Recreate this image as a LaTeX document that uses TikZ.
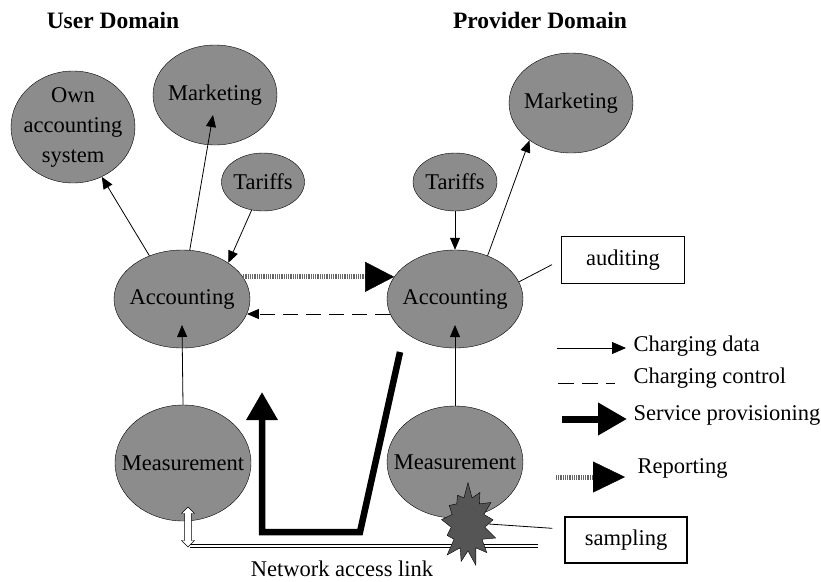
\documentclass[tikz,border=0pt]{standalone}
\usepackage{fontspec}
\setmainfont{Liberation Serif}
\usetikzlibrary{shapes,arrows.meta,calc}
\definecolor{ellgray}{RGB}{140,140,140}
\definecolor{burstgray}{RGB}{85,85,85}
\tikzstyle{nd}=[ellipse,draw=black,fill=ellgray,inner sep=0pt]
\tikzstyle{bx}=[rectangle,draw=black,line width=1.2pt,inner sep=0pt]
\tikzstyle{dat}=[->,line width=.8pt]
\tikzstyle{ctl}=[->,line width=1pt,dash pattern=on 15pt off 8pt]
\tikzstyle{rep}=[draw=gray!80!black,line width=5pt,dash pattern=on 1pt off .8pt]
\tikzstyle{prov}=[line width=6.5pt,-{Triangle[length=28pt,width=30pt]}]
\tikzstyle{big}=[-{Triangle[length=29pt,width=30pt]}]

\begin{document}
\begin{tikzpicture}[x=1pt,y=-1pt,>={Triangle[length=12pt,width=10pt]},font=\fontsize{22.5}{30}\selectfont]
\useasboundingbox (0,0) rectangle (821,581);
\node[font=\fontsize{23.5}{26}\selectfont\bfseries] (ut) at (113,20) {User Domain};
\node[font=\fontsize{23.5}{26}\selectfont\bfseries] (pt) at (540,20) {Provider Domain};

\node[nd,minimum width=124,minimum height=112,label={[align=center]center:Own\\accounting\\system}] (own) at (73,127) {};
\node[nd,minimum width=124,minimum height=100,label=center:Marketing] (umkt) at (215,95) {};
\node[nd,minimum width=83,minimum height=58,label=center:Tariffs] (utar) at (263,182) {};
\node[nd,minimum width=136,minimum height=98,label=center:Accounting] (uacc) at (182,299) {};
\node[nd,minimum width=136,minimum height=116,label=center:Measurement] (umeas) at (183,463) {};

\node[nd,minimum width=84,minimum height=58,label=center:Tariffs] (ptar) at (455,182) {};
\node[nd,minimum width=124,minimum height=100,label=center:Marketing] (pmkt) at (571,103) {};
\node[nd,minimum width=136,minimum height=98,label=center:Accounting] (pacc) at (455,299) {};
\node[nd,minimum width=136,minimum height=112,label=center:Measurement] (pmeas) at (455,462) {};

\node[bx,minimum width=123,minimum height=47] (aud) at (623,260) {auditing};
\node[bx,minimum width=122,minimum height=46] (samp) at (626,540) {sampling};

\draw[dat] (uacc.127) -- (own.-60);
\draw[dat] (uacc.81) -- ($(umkt)+(-2,20)$);
\draw[dat] (utar.-112) -- (uacc.38);
\draw[dat] (umeas.north) -- ($(uacc)+(0,26)$);
\draw[dat] (ptar.south) -- (pacc.north);
\draw[dat] (pacc.53) -- (pmkt.-138);
\draw[dat] (pmeas.north) -- ($(pacc)+(0,26)$);

\draw[rep] (uacc.20) -- ($(pacc.160)+(-27,0)$);
\draw[big] ($(pacc.160)+(-28,0)$) -- (pacc.160);
\draw[ctl] (pacc.-167) -- (uacc.-13);
\draw[line width=.8pt,shorten <=10pt] (aud.west) -- (pacc.15);

\coordinate (sp1) at (400,352);
\coordinate (sp2) at (360,532);
\coordinate (sp3) at (262,532);
\coordinate (sp4) at (262,392);
\draw[prov] (sp1) -- (sp2) -- (sp3) -- (sp4);

\coordinate (nl) at (190,546);
\coordinate (nr) at (538,546);
\draw[double,double distance=2.5pt,line width=.8pt] (nl) -- (nr);
\node (net) at (342,569) {Network access link};
\node[double arrow,draw=black,fill=white,rotate=90,minimum height=40pt,minimum width=13pt,
  inner sep=3pt,double arrow head extend=3pt,double arrow head indent=0pt] (dbl) at (188,527) {};

\node[starburst,fill=burstgray,draw=black,starburst points=13,starburst point height=16pt,
  random starburst=7,inner xsep=12pt,inner ysep=19pt] (burst) at (468,524) {};
\draw[line width=.8pt,shorten >=12pt] (burst.east) -- (samp.170);

\coordinate (l1a) at (557,348); \coordinate (l1b) at (626,348);
\coordinate (l2a) at (558,383); \coordinate (l2b) at (615,383);
\coordinate (l3a) at (562,419); \coordinate (l3b) at (627,419);
\coordinate (l4a) at (556,477); \coordinate (l4b) at (593,477); \coordinate (l4c) at (625,477);
\draw[dat,>={Triangle[length=14pt,width=12pt]}] (l1a) -- (l1b);
\draw[line width=1pt,dash pattern=on 16pt off 8pt] (l2a) -- (l2b);
\draw[line width=7pt,-{Triangle[length=29pt,width=31pt]}] (l3a) -- (l3b);
\draw[rep] (l4a) -- (l4b);
\draw[big,-{Triangle[length=32pt,width=31pt]}] (l4b) -- (l4c);
\node[anchor=west] (t1) at (630,346) {Charging data};
\node[anchor=west] (t2) at (630,378) {Charging control};
\node[anchor=west] (t3) at (630,415) {Service provisioning};
\node[anchor=west] (t4) at (634,468) {Reporting};
\end{tikzpicture}
\end{document}
